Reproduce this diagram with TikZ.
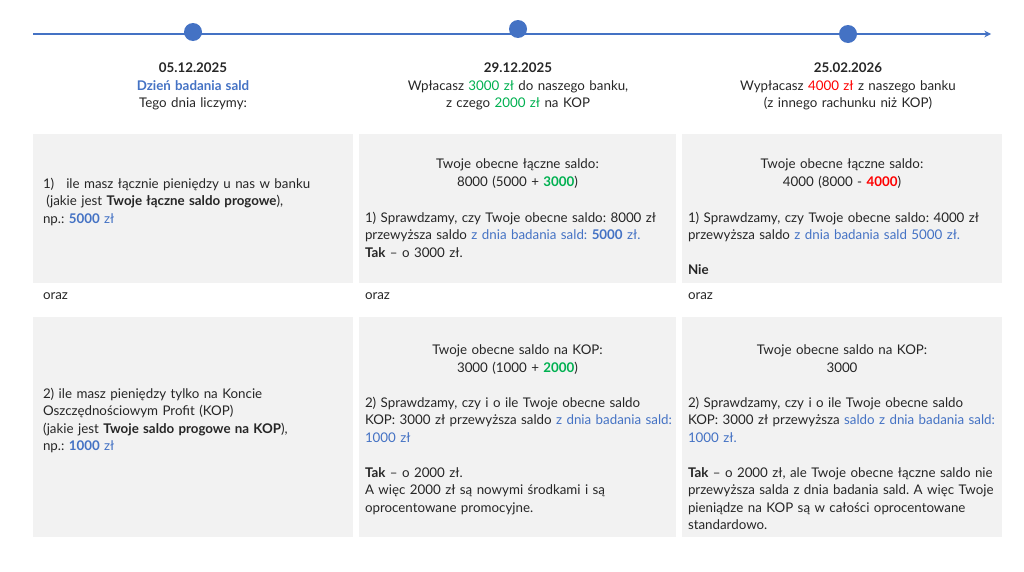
\documentclass[tikz,border=0pt]{standalone}
\usepackage{fontspec}
\setmainfont[WordSpace=1.3]{Lato}
\usepackage{xcolor}
\usetikzlibrary{arrows.meta,positioning}
\frenchspacing

\definecolor{tlblue}{RGB}{68,114,196}
\definecolor{kopgreen}{RGB}{0,176,80}
\definecolor{kopred}{RGB}{255,0,0}
\definecolor{boxgray}{RGB}{242,242,242}
\definecolor{textdark}{RGB}{38,38,38}

\begin{document}
\begin{tikzpicture}[x=0.75pt,y=-0.75pt,semithick,
  every node/.style={inner sep=0pt,outer sep=0pt,text=textdark,
    font=\fontsize{10}{13.1}\selectfont\frenchspacing},
  dot/.style={circle,fill=tlblue,minimum size=13.5pt},
  box/.style={fill=boxgray,anchor=north west},
  hdr/.style={align=center,anchor=north},
  ctr/.style={align=center,anchor=north},
  txt/.style={align=left,anchor=north west},
  sep/.style={anchor=west}]
  \useasboundingbox (0,0) rectangle (1024,571);
  % timeline
  \coordinate (tl0) at (33,34);
  \coordinate (tl1) at (991,34);
  \draw[tlblue,line width=0.9pt,-{Stealth[length=5pt,width=5pt]}] (tl0) -- (tl1);
  \node [dot] (d1) at (193,32) {};
  \node [dot] (d2) at (518,29) {};
  \node [dot] (d3) at (848,34) {};
  % headers
  \node [hdr] (h1) at (193,63) {\textbf{05.12.2025}\\
    \textcolor{tlblue}{\textbf{Dzień badania sald}}\\
    Tego dnia liczymy:};
  \node [hdr] (h2) at (518,63) {\textbf{29.12.2025}\\
    Wpłacasz \textcolor{kopgreen}{3000 zł} do naszego banku,\\
    z czego \textcolor{kopgreen}{2000 zł} na KOP};
  \node [hdr] (h3) at (848,63) {\textbf{25.02.2026}\\
    Wypłacasz \textcolor{kopred}{4000 zł} z naszego banku\\
    (z innego rachunku niż KOP)};
  % boxes
  \node [box,minimum width=240pt,minimum height=111.75pt] (b11) at (33,134) {};
  \node [box,minimum width=237.75pt,minimum height=111.75pt] (b12) at (359,134) {};
  \node [box,minimum width=240pt,minimum height=111.75pt] (b13) at (682,134) {};
  \node [box,minimum width=240pt,minimum height=165pt] (b21) at (33,317) {};
  \node [box,minimum width=237.75pt,minimum height=165pt] (b22) at (359,317) {};
  \node [box,minimum width=240pt,minimum height=165pt] (b23) at (682,317) {};
  % row 1
  \node [txt] (t11) at (43,178) {1)\hspace{0.9em}ile masz łącznie pieniędzy u nas w banku\\
    \hspace{0.25em}(jakie jest \textbf{Twoje łączne saldo progowe}),\\
    np.: \textcolor{tlblue}{\textbf{5000} zł}};
  \node [ctr] (c12) at (517.5,159) {Twoje obecne łączne saldo:\\
    8000 (5000 + \textcolor{kopgreen}{\textbf{3000}})};
  \node [txt] (t12) at (365,212) {1) Sprawdzamy, czy Twoje obecne saldo: 8000 zł\\
    przewyższa saldo \textcolor{tlblue}{z dnia badania sald: \textbf{5000} zł.}\\
    \textbf{Tak} – o 3000 zł.};
  \node [ctr] (c13) at (842,159) {Twoje obecne łączne saldo:\\
    4000 (8000 - \textcolor{kopred}{\textbf{4000}})};
  \node [txt] (t13) at (688,212) {1) Sprawdzamy, czy Twoje obecne saldo: 4000 zł\\
    przewyższa saldo \textcolor{tlblue}{z dnia badania sald 5000 zł.}\\[13.1pt]
    \textbf{Nie}};
  % oraz
  \node [sep] (o1) at (43,296) {oraz};
  \node [sep] (o2) at (365,296) {oraz};
  \node [sep] (o3) at (688,296) {oraz};
  % row 2
  \node [txt] (t21) at (43,388) {2) ile masz pieniędzy tylko na Koncie\\
    Oszczędnościowym Profit (KOP)\\
    (jakie jest \textbf{Twoje saldo progowe na KOP}),\\
    np.: \textcolor{tlblue}{\textbf{1000} zł}};
  \node [ctr] (c22) at (517.5,345) {Twoje obecne saldo na KOP:\\
    3000 (1000 + \textcolor{kopgreen}{\textbf{2000}})};
  \node [txt] (t22) at (365,397) {2) Sprawdzamy, czy i o ile Twoje obecne saldo\\
    KOP: 3000 zł przewyższa saldo \textcolor{tlblue}{z dnia badania sald:}\\
    \textcolor{tlblue}{1000 zł}\\[13.1pt]
    \textbf{Tak} – o 2000 zł.\\
    A więc 2000 zł są nowymi środkami i są\\
    oprocentowane promocyjne.};
  \node [ctr] (c23) at (842,345) {Twoje obecne saldo na KOP:\\
    3000};
  \node [txt] (t23) at (688,397) {2) Sprawdzamy, czy i o ile Twoje obecne saldo\\
    KOP: 3000 zł przewyższa \textcolor{tlblue}{saldo z dnia badania sald:}\\
    \textcolor{tlblue}{1000 zł.}\\[13.1pt]
    \textbf{Tak} – o 2000 zł, ale Twoje obecne łączne saldo nie\\
    przewyższa salda z dnia badania sald. A więc Twoje\\
    pieniądze na KOP są w całości oprocentowane\\
    standardowo.};
\end{tikzpicture}
\end{document}
